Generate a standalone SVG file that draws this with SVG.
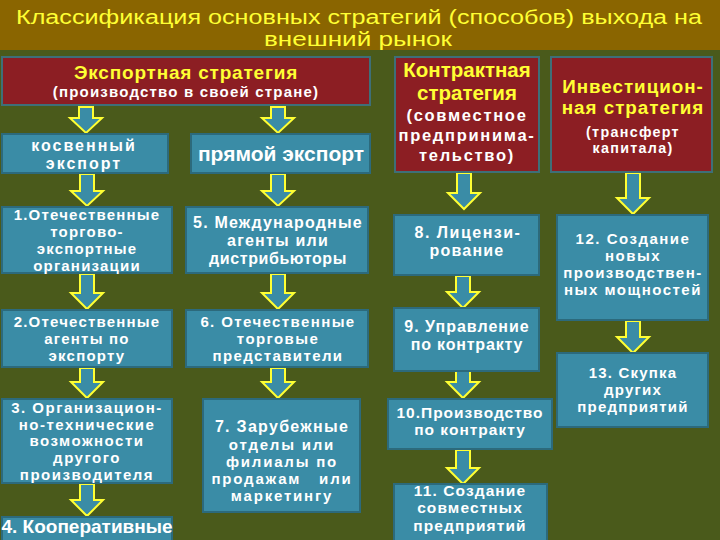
<svg xmlns="http://www.w3.org/2000/svg" width="720" height="540" viewBox="0 0 720 540">
<style>
.bg{fill:#4a5a1b}
.bar{fill:#8a6500}
.title{font-family:"Liberation Sans",Arial,sans-serif;font-size:19.5px;fill:#ffff33;text-anchor:middle}
.red{fill:#8c1e23;stroke:#3e6f78;stroke-width:2}
.teal{fill:#3a8ca6;stroke:#2c6a7c;stroke-width:2}
.hy{font-family:"Liberation Sans",Arial,sans-serif;font-weight:bold;font-size:20.5px;fill:#ffff33;text-anchor:middle}
.hw{font-family:"Liberation Sans",Arial,sans-serif;font-weight:bold;font-size:16.5px;letter-spacing:1.7px;fill:#ffffff;text-anchor:middle}
.t{font-family:"Liberation Sans",Arial,sans-serif;font-weight:bold;font-size:15px;letter-spacing:1.2px;fill:#ffffff;text-anchor:middle}
.arr{fill:#3a8ca6;stroke:#ffff33;stroke-width:2;stroke-linejoin:miter}
</style>
<rect class="bg" x="0" y="0" width="720" height="540"/>
<rect class="bar" x="0" y="0" width="720" height="50"/>
<g id="title">
<text class="title" x="359" y="24" textLength="686" lengthAdjust="spacingAndGlyphs">Классификация основных стратегий (способов) выхода на</text>
<text class="title" x="358" y="46" textLength="188" lengthAdjust="spacingAndGlyphs">внешний рынок</text>
</g>
<g id="connectors">
<path class="arr" d="M79,107 H93 V118 H102 L86,133 L70,118 H79 Z"/>
<path class="arr" d="M271,107 H285 V118 H294 L278,133 L262,118 H271 Z"/>
<path class="arr" d="M80,174 H94 V191 H103 L87,206 L71,191 H80 Z"/>
<path class="arr" d="M271,174 H285 V191 H294 L278,206 L262,191 H271 Z"/>
<path class="arr" d="M80,274 H94 V293 H103 L87,309 L71,293 H80 Z"/>
<path class="arr" d="M271,274 H285 V293 H294 L278,309 L262,293 H271 Z"/>
<path class="arr" d="M80,368 H94 V382 H103 L87,398 L71,382 H80 Z"/>
<path class="arr" d="M271,368 H285 V382 H294 L278,398 L262,382 H271 Z"/>
<path class="arr" d="M80,484 H94 V500 H103 L87,516 L71,500 H80 Z"/>
<path class="arr" d="M457,173 H471 V193 H480 L464,209 L448,193 H457 Z"/>
<path class="arr" d="M456,276 H470 V292 H479 L463,308 L447,292 H456 Z"/>
<path class="arr" d="M456,371 H470 V382 H479 L463,398 L447,382 H456 Z"/>
<path class="arr" d="M456,450 H470 V468 H479 L463,484 L447,468 H456 Z"/>
<path class="arr" d="M626,173 H640 V198 H649 L633,214 L617,198 H626 Z"/>
<path class="arr" d="M626,321 H640 V337 H649 L633,353 L617,337 H626 Z"/>
</g>
<g id="export-strategy">
<rect class="red" x="2" y="57" width="368" height="48"/>
<text class="hy" x="186" y="79" style="font-size:19px;letter-spacing:0.8px">Экспортная стратегия</text>
<text class="hw" x="186" y="97" style="font-size:15px;letter-spacing:1.2px">(производство в своей стране)</text>
</g>
<g id="contract-strategy">
<rect class="red" x="395" y="57" width="144" height="115"/>
<text class="hy" x="467" y="77">Контрактная</text>
<text class="hy" x="467" y="100">стратегия</text>
<text class="hw" x="467" y="121">(совместное</text>
<text class="hw" x="467" y="141">предпринима-</text>
<text class="hw" x="467" y="161">тельство)</text>
</g>
<g id="invest-strategy">
<rect class="red" x="551" y="57" width="161" height="115"/>
<text class="hy" x="633" y="93" style="font-size:18.8px;letter-spacing:1px">Инвестицион-</text>
<text class="hy" x="633" y="114" style="font-size:18.8px;letter-spacing:1px">ная стратегия</text>
<text class="hw" x="633" y="137" style="font-size:14.3px;letter-spacing:1.3px">(трансферт</text>
<text class="hw" x="633" y="153" style="font-size:14.3px;letter-spacing:1.3px">капитала)</text>
</g>
<g id="indirect">
<rect class="teal" x="2" y="134" width="166" height="39"/>
<text class="t" x="84" y="151" style="font-size:16px;letter-spacing:2px">косвенный</text>
<text class="t" x="84" y="169" style="font-size:16px;letter-spacing:2px">экспорт</text>
</g>
<g id="direct">
<rect class="teal" x="191" y="134" width="179" height="39"/>
<text class="t" x="281" y="161" style="font-size:21px;letter-spacing:0">прямой экспорт</text>
</g>
<g id="n1">
<rect class="teal" x="2" y="207" width="170" height="66"/>
<text class="t" x="87" y="220">1.Отечественные</text>
<text class="t" x="87" y="237">торгово-</text>
<text class="t" x="87" y="254">экспортные</text>
<text class="t" x="87" y="271">организации</text>
</g>
<g id="n2">
<rect class="teal" x="2" y="310" width="170" height="57"/>
<text class="t" x="87" y="327">2.Отечественные</text>
<text class="t" x="87" y="344">агенты по</text>
<text class="t" x="87" y="361">экспорту</text>
</g>
<g id="n3">
<rect class="teal" x="2" y="399" width="170" height="84"/>
<text class="t" x="87" y="413" style="letter-spacing:1.5px">3. Организацион-</text>
<text class="t" x="87" y="430" style="letter-spacing:1.5px">но-технические</text>
<text class="t" x="87" y="446" style="letter-spacing:1.5px">возможности</text>
<text class="t" x="87" y="463" style="letter-spacing:1.5px">другого</text>
<text class="t" x="87" y="480" style="letter-spacing:1.5px">производителя</text>
</g>
<g id="n4">
<rect class="teal" x="2" y="517" width="170" height="30"/>
<text class="t" x="87" y="533" style="font-size:19px;letter-spacing:0">4. Кооперативные</text>
</g>
<g id="n5">
<rect class="teal" x="186" y="207" width="182" height="66"/>
<text class="t" x="278" y="228" style="font-size:16px;letter-spacing:1.2px">5. Международные</text>
<text class="t" x="278" y="246" style="font-size:16px;letter-spacing:1.2px">агенты или</text>
<text class="t" x="278" y="264" style="font-size:16px;letter-spacing:0.6px">дистрибьюторы</text>
</g>
<g id="n6">
<rect class="teal" x="186" y="310" width="182" height="57"/>
<text class="t" x="278" y="327" style="letter-spacing:1.4px">6. Отечественные</text>
<text class="t" x="278" y="344" style="letter-spacing:1.4px">торговые</text>
<text class="t" x="278" y="361" style="letter-spacing:1.4px">представители</text>
</g>
<g id="n7">
<rect class="teal" x="203" y="399" width="157" height="113"/>
<text class="t" x="282" y="432" style="font-size:16px;letter-spacing:1.3px">7. Зарубежные</text>
<text class="t" x="282" y="450" style="letter-spacing:1.8px">отделы или</text>
<text class="t" x="282" y="467" style="letter-spacing:1.8px">филиалы по</text>
<text class="t" x="282" y="484" style="letter-spacing:1.8px">продажам&#160;&#160;&#160;или</text>
<text class="t" x="282" y="501" style="letter-spacing:1.8px">маркетингу</text>
</g>
<g id="n8">
<rect class="teal" x="394" y="215" width="145" height="60"/>
<text class="t" x="468" y="238" style="font-size:16px;letter-spacing:1.5px">8. Лицензи-</text>
<text class="t" x="467" y="256" style="font-size:16px;letter-spacing:1.2px">рование</text>
</g>
<g id="n9">
<rect class="teal" x="394" y="308" width="145" height="63"/>
<text class="t" x="467" y="332" style="font-size:16px;letter-spacing:1px">9. Управление</text>
<text class="t" x="467" y="350" style="font-size:16px;letter-spacing:0.8px">по контракту</text>
</g>
<g id="n10">
<rect class="teal" x="388" y="399" width="164" height="50"/>
<text class="t" x="470" y="418" style="font-size:15.5px;letter-spacing:1px">10.Производство</text>
<text class="t" x="470" y="435" style="font-size:15.5px;letter-spacing:1px">по контракту</text>
</g>
<g id="n11">
<rect class="teal" x="394" y="484" width="153" height="60"/>
<text class="t" x="470" y="496" style="font-size:15.5px;letter-spacing:1.1px">11. Создание</text>
<text class="t" x="470" y="513" style="font-size:15.5px;letter-spacing:1.1px">совместных</text>
<text class="t" x="470" y="531" style="font-size:15.5px;letter-spacing:1.1px">предприятий</text>
</g>
<g id="n12">
<rect class="teal" x="557" y="215" width="151" height="105"/>
<text class="t" x="633" y="244" style="letter-spacing:1.5px">12. Создание</text>
<text class="t" x="633" y="261" style="letter-spacing:1.5px">новых</text>
<text class="t" x="633" y="278" style="letter-spacing:1.5px">производствен-</text>
<text class="t" x="633" y="295" style="letter-spacing:1.5px">ных мощностей</text>
</g>
<g id="n13">
<rect class="teal" x="557" y="353" width="151" height="74"/>
<text class="t" x="633" y="378">13. Скупка</text>
<text class="t" x="633" y="395">других</text>
<text class="t" x="633" y="412">предприятий</text>
</g>
</svg>
